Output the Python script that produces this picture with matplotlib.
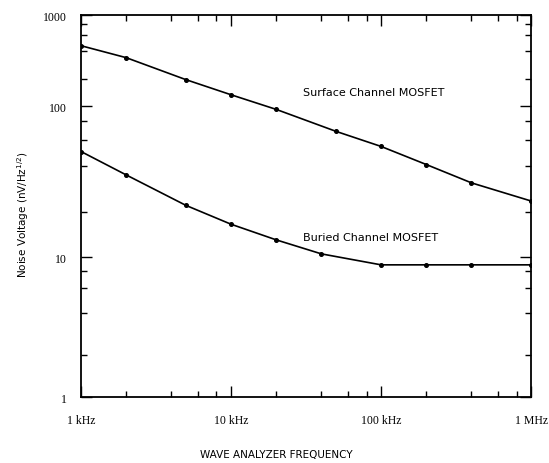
import numpy as np
import matplotlib
matplotlib.use("Agg")
import matplotlib.pyplot as plt
from matplotlib.ticker import FixedLocator, FixedFormatter, LogLocator, NullFormatter

# values (nV/Hz^1/2)
freq_surface = [1e3, 2e3, 5e3, 1e4, 2e4, 5e4, 1e5, 2e5, 4e5, 1e6]
noise_surface = [460, 340, 195, 133, 95, 68, 54, 41, 31, 23.5]

freq_buried = [1e3, 2e3, 5e3, 1e4, 2e4, 4e4, 1e5, 2e5, 4e5, 1e6]
noise_buried = [50, 35, 22, 16.5, 13, 10.5, 8.8, 8.8, 8.8, 8.8]

xtick_vals = [1e3, 1e4, 1e5, 1e6]
xtick_labels = ["1 kHz", "10 kHz", "100 kHz", "1 MHz"]
ytick_vals = [1, 10, 100, 1000]
ytick_labels = ["1", "10", "100", "1000"]

# the hand-drafted y axis has uneven decades (top one is squeezed)
DEC = [-3, 0, 1, 2, 3, 6]
POS = [-420, 0, 140, 291, 382, 655]


def fwd(v):
    v = np.asarray(v, dtype=float)
    return np.interp(np.log10(np.clip(v, 1e-12, None)), DEC, POS)


def inv(p):
    return 10 ** np.interp(np.asarray(p, dtype=float), POS, DEC)


fig = plt.figure(figsize=(5.49, 4.64), dpi=100)
ax = fig.add_axes([0.1475, 0.142, 0.82, 0.8235])

ax.plot(freq_surface, noise_surface, color="black", lw=1.2,
        marker="o", ms=2.6)
ax.plot(freq_buried, noise_buried, color="black", lw=1.2,
        marker="o", ms=2.6)

ax.set_xscale("log")
ax.set_yscale("function", functions=(fwd, inv))
ax.set_xlim(1e3, 1e6)
ax.set_ylim(1, 1000)

ax.xaxis.set_major_locator(FixedLocator(xtick_vals))
ax.xaxis.set_major_formatter(FixedFormatter(xtick_labels))
ax.xaxis.set_minor_locator(LogLocator(base=10, subs=[2, 4, 6, 8]))
ax.xaxis.set_minor_formatter(NullFormatter())

ax.yaxis.set_major_locator(FixedLocator(ytick_vals))
ax.yaxis.set_major_formatter(FixedFormatter(ytick_labels))
yminor = [d * s for d in [1, 10, 100] for s in [2, 4, 6, 8]]
ax.yaxis.set_minor_locator(FixedLocator(yminor))
ax.yaxis.set_minor_formatter(NullFormatter())

ax.tick_params(which="both", direction="in", top=True, right=True,
               width=1.0, colors="black")
ax.tick_params(which="major", length=8)
ax.tick_params(which="minor", length=4)
ax.tick_params(axis="y", which="major", pad=10)
ax.tick_params(axis="x", which="major", pad=12)
for lab in ax.get_xticklabels() + ax.get_yticklabels():
    lab.set_family("Liberation Serif")
    lab.set_fontsize(8.5)

for sp in ax.spines.values():
    sp.set_linewidth(1.3)

ax.set_xlabel("WAVE ANALYZER FREQUENCY", fontsize=7.5, labelpad=17, x=0.435)
ax.set_ylabel("Noise Voltage (nV/Hz$^{1/2}$)", fontsize=7.5, labelpad=9,
              y=0.48)

ax.text(3e4, 143, "Surface Channel MOSFET", fontsize=8, va="center")
ax.text(3e4, 13.5, "Buried Channel MOSFET", fontsize=8, va="center")

fig.savefig("out.png", dpi=100)
